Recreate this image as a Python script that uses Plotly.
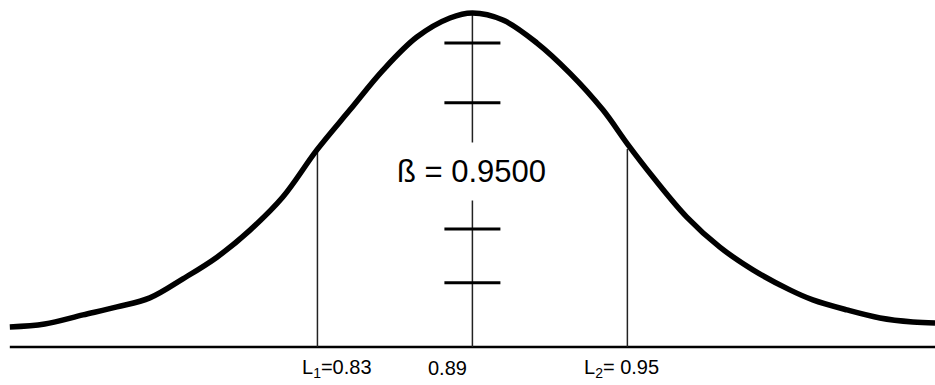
import plotly.graph_objects as go

# Hand-drawn sampling distribution (relative density, peak = 1)
curve_x = [0.7109, 0.7244, 0.7392, 0.7524, 0.7651, 0.7779,
           0.7911, 0.8039, 0.8166, 0.8298, 0.8426, 0.8554, 0.8685, 0.8813,
           0.8900, 0.9018, 0.9150, 0.9277, 0.9405, 0.9502, 0.9599, 0.9730,
           0.9858, 0.9986, 1.0129, 1.0218, 1.0350, 1.0478, 1.0605, 1.0691]
curve_y = [0.060, 0.069, 0.096, 0.120, 0.147, 0.204,
           0.269, 0.350, 0.449, 0.590, 0.710, 0.829, 0.928, 0.985,
           1.000, 0.979, 0.910, 0.820, 0.710, 0.606, 0.509, 0.389,
           0.299, 0.231, 0.171, 0.141, 0.111, 0.087, 0.075, 0.072]

# Confidence limits and point estimate
lower_limit = 0.83
upper_limit = 0.95
estimate = 0.89
lower_height = 0.585
upper_height = 0.593
peak_height = 1.0
confidence = 0.95

# Tick marks along the centre line
tick_heights = [0.910, 0.731, 0.353, 0.192]

BLACK = "#000000"
FONT = "Liberation Sans, Arial, sans-serif"

fig = go.Figure()

# Baseline
fig.add_trace(go.Scatter(x=[curve_x[0], curve_x[-1]], y=[0, 0], mode="lines",
                         line=dict(color=BLACK, width=2.5), hoverinfo="skip"))

# Limit lines
for xv, hv in [(lower_limit, lower_height), (upper_limit, upper_height)]:
    fig.add_trace(go.Scatter(x=[xv, xv], y=[0, hv], mode="lines",
                             line=dict(color="#222222", width=1.5), hoverinfo="skip"))

# Centre line
fig.add_trace(go.Scatter(x=[estimate, estimate], y=[0, peak_height], mode="lines",
                         line=dict(color="#222222", width=1.5), hoverinfo="skip"))

# Tick crosses
fig.add_trace(go.Scatter(x=[estimate] * len(tick_heights), y=tick_heights, mode="markers",
                         marker=dict(symbol="line-ew", size=40,
                                     line=dict(color=BLACK, width=3)),
                         hoverinfo="skip"))

# Distribution curve
fig.add_trace(go.Scatter(x=curve_x, y=curve_y, mode="lines", line_shape="spline",
                         line=dict(color=BLACK, width=5.5, smoothing=1.0),
                         hoverinfo="skip"))

annotations = [
    dict(x=estimate, y=0.524, text=f"ß = {confidence:.4f}", showarrow=False,
         font=dict(size=31, color=BLACK, family=FONT), bgcolor="white",
         borderpad=11, xshift=-1),
    dict(x=lower_limit, y=-0.063, text=f"L<sub>1</sub>={lower_limit:.2f}", showarrow=False,
         font=dict(size=20, color=BLACK, family=FONT), xshift=20),
    dict(x=estimate, y=-0.063, text=f"{estimate:.2f}", showarrow=False,
         font=dict(size=20, color=BLACK, family=FONT), xshift=-25),
    dict(x=upper_limit, y=-0.063, text=f"L<sub>2</sub>= {upper_limit:.2f}", showarrow=False,
         font=dict(size=20, color=BLACK, family=FONT), xshift=-6),
]

fig.update_layout(
    width=935, height=385,
    margin=dict(l=0, r=0, t=0, b=0),
    paper_bgcolor="white", plot_bgcolor="white",
    showlegend=False,
    xaxis=dict(range=[0.7071, 1.0691], visible=False),
    yaxis=dict(range=[-0.1138, 1.0389], visible=False),
    annotations=annotations,
)

fig.write_html("out.html")
